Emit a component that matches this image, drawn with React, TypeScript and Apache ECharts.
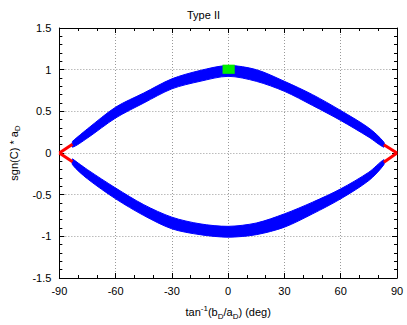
import React, { useEffect, useRef } from "react";
import * as echarts from "echarts";

const xTicks = [-90, -60, -30, 0, 30, 60, 90];
const yTicks = [-1.5, -1, -0.5, 0, 0.5, 1, 1.5];

// blue band: angle (deg), lower and upper edge
const bandAngles = [-83, -75, -60, -45, -30, -15, 0, 15, 30, 45, 60, 75, 83];
const upperLo = [0.07, 0.18, 0.42, 0.6, 0.77, 0.86, 0.92, 0.86, 0.74, 0.57, 0.39, 0.19, 0.07];
const upperHi = [0.14, 0.29, 0.55, 0.72, 0.89, 0.99, 1.05, 1.0, 0.86, 0.7, 0.51, 0.3, 0.13];
const lowerLo = [-0.14, -0.31, -0.55, -0.75, -0.91, -0.98, -1.01, -0.98, -0.89, -0.73, -0.55, -0.33, -0.14];
const lowerHi = [-0.07, -0.2, -0.42, -0.62, -0.77, -0.85, -0.88, -0.84, -0.73, -0.59, -0.43, -0.23, -0.08];

// red end segments
const redLeft = [[-90, 0], [-83, 0.105]];
const redLeftLow = [[-90, 0], [-83, -0.105]];
const redRight = [[83, 0.1], [90, 0]];
const redRightLow = [[83, -0.11], [90, 0]];

// green box: [xMin, xMax, yMin, yMax]
const greenBox = [[-3, 3.5, 0.95, 1.06]];

const FONT = "'Liberation Sans', Arial, Helvetica, sans-serif";

function bandSeries(lo: number[], hi: number[]) {
  const data = bandAngles.map((a, i) => [a, lo[i], hi[i]]);
  return {
    type: "custom",
    data,
    encode: { x: 0, y: [1, 2] },
    renderItem: (params: any, api: any) => {
      if (params.dataIndex !== 0) return null;
      const top = data.map((d) => api.coord([d[0], d[2]]));
      const bottom = data.map((d) => api.coord([d[0], d[1]])).reverse();
      return {
        type: "group",
        children: [
          {
            type: "polyline",
            shape: { points: top.concat(bottom).concat([top[0]]), smooth: 0.3 },
            style: { fill: "#0000ff", stroke: "#0000ff", lineWidth: 1 },
          },
        ],
      };
    },
    z: 2,
  };
}

function redSeries(data: number[][]) {
  return {
    type: "line",
    data,
    symbol: "none",
    lineStyle: { color: "#ff0000", width: 3 },
    z: 3,
  };
}

export default function App() {
  const ref = useRef<HTMLDivElement>(null);
  useEffect(() => {
    if (!ref.current) return;
    const chart = echarts.init(ref.current, null, { renderer: "svg" });
    const axisCommon = {
      axisLine: { show: true, onZero: false, lineStyle: { color: "#000", width: 1 } },
      axisTick: { show: true, inside: true, length: 5, lineStyle: { color: "#000" } },
    };
    chart.setOption({
      animation: false,
      backgroundColor: "#fff",
      textStyle: { fontFamily: FONT },
      title: {
        text: "Type II",
        left: "center",
        top: 4,
        textStyle: { fontSize: 11, fontWeight: "normal", color: "#000", fontFamily: FONT },
      },
      grid: { left: 52, right: 10, top: 28, bottom: 44, show: false },
      xAxis: [
        {
          type: "value",
          min: -90,
          max: 90,
          interval: 30,
          position: "bottom",
          ...axisCommon,
          minorTick: { show: true, splitNumber: 3, length: 3, lineStyle: { color: "#000" } },
          splitLine: { show: true, lineStyle: { color: "#999", type: [1, 2], width: 1 } },
          axisLabel: { color: "#000", fontSize: 11, margin: 7, fontFamily: FONT },
          name: "{n|tan}{sup|-1}{n|(b}{sub|D}{n|/a}{sub|D}{n|) (deg)}",
          nameLocation: "middle",
          nameGap: 26,
          nameTextStyle: {
            color: "#000",
            fontFamily: FONT,
            rich: {
              n: { fontSize: 11, color: "#000", fontFamily: FONT, lineHeight: 16 },
              sup: { fontSize: 8, color: "#000", fontFamily: FONT, verticalAlign: "top", lineHeight: 16 },
              sub: { fontSize: 8, color: "#000", fontFamily: FONT, verticalAlign: "bottom", lineHeight: 16 },
            },
          },
        },
        {
          type: "value",
          min: -90,
          max: 90,
          interval: 30,
          position: "top",
          ...axisCommon,
          minorTick: { show: true, splitNumber: 3, length: 3, lineStyle: { color: "#000" } },
          splitLine: { show: false },
          axisLabel: { show: false },
        },
      ],
      yAxis: [
        {
          type: "value",
          min: -1.5,
          max: 1.5,
          interval: 0.5,
          position: "left",
          ...axisCommon,
          minorTick: { show: true, splitNumber: 5, length: 3, lineStyle: { color: "#000" } },
          splitLine: { show: true, lineStyle: { color: "#999", type: [1, 2], width: 1 } },
          axisLabel: { color: "#000", fontSize: 11, margin: 8, fontFamily: FONT },
          name: "{n|sgn(C) * a}{sub|D}",
          nameLocation: "middle",
          nameGap: 34,
          nameRotate: 90,
          nameTextStyle: {
            color: "#000",
            fontFamily: FONT,
            rich: {
              n: { fontSize: 11, color: "#000", fontFamily: FONT, lineHeight: 16 },
              sub: { fontSize: 8, color: "#000", fontFamily: FONT, verticalAlign: "bottom", lineHeight: 16 },
            },
          },
        },
        {
          type: "value",
          min: -1.5,
          max: 1.5,
          interval: 0.5,
          position: "right",
          ...axisCommon,
          minorTick: { show: true, splitNumber: 5, length: 3, lineStyle: { color: "#000" } },
          splitLine: { show: false },
          axisLabel: { show: false },
        },
      ],
      series: [
        bandSeries(upperLo, upperHi),
        bandSeries(lowerLo, lowerHi),
        redSeries(redLeft),
        redSeries(redLeftLow),
        redSeries(redRight),
        redSeries(redRightLow),
        {
          type: "custom",
          data: greenBox,
          encode: { x: [0, 1], y: [2, 3] },
          renderItem: (params: any, api: any) => {
            const p0 = api.coord([api.value(0), api.value(3)]);
            const p1 = api.coord([api.value(1), api.value(2)]);
            return {
              type: "rect",
              shape: { x: p0[0], y: p0[1], width: p1[0] - p0[0], height: p1[1] - p0[1] },
              style: { fill: "#00ee00" },
            };
          },
          z: 4,
        },
      ],
    });
    return () => chart.dispose();
  }, []);
  return (
    <div
      ref={ref}
      style={{ position: "absolute", left: 0, top: 0, width: 407, height: 325 }}
    />
  );
}
